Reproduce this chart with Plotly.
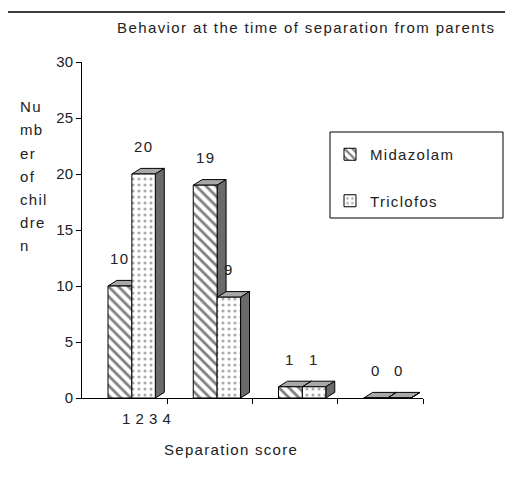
import plotly.graph_objects as go

# ---- data ----
categories = ["1", "2", "3", "4"]
series_names = ["Midazolam", "Triclofos"]
midazolam = [10, 19, 1, 0]
triclofos = [20, 9, 1, 0]
y_title_lines = ["Nu", "mb", "er", "of", "chil", "dre", "n"]
title_text = "Behavior at the time of separation from parents"
x_title = "Separation score"

# ---- layout helpers ----
FONT = "Liberation Sans, Arial, sans-serif"
W, H = 513, 477
OFF = 8  # page body margin
L, T = 82 - OFF, 62 - OFF
PR, PB = 423 - OFF, 398 - OFF
R, B = W - PR, H - PB
PW, PH = PR - L, PB - T


def pxx(px):
    return (px - OFF - L) / PW


def pxy(py):
    return (PB - (py - OFF)) / PH


def sp(text, ls=1.3):
    return f"<span style='letter-spacing:{ls}px'>{text}</span>"


xs = list(range(len(categories)))
DX, DY = 0.105, 0.5

styles = [
    dict(offset=-0.195, width=0.28,
         pattern=dict(shape="\\", size=7, solidity=0.4, fgcolor="black", bgcolor="white")),
    dict(offset=0.085, width=0.275,
         pattern=dict(shape=".", size=6, solidity=0.22, fgcolor="#555555", bgcolor="white")),
]

fig = go.Figure()
shapes = []
annotations = []
for name, vals, st in zip(series_names, [midazolam, triclofos], styles):
    fig.add_trace(go.Bar(
        x=xs, y=vals, name=sp(name), legendgroup=name,
        offset=st["offset"], width=st["width"],
        marker=dict(color="white", pattern=st["pattern"],
                    line=dict(color="black", width=1)),
    ))
    for x, v in zip(xs, vals):
        xl = x + st["offset"]
        xr = xl + st["width"]
        shapes.append(dict(type="path", xref="x", yref="y", layer="below",
                           path=f"M {xl},{v} L {xl+DX},{v+DY} L {xr+DX},{v+DY} L {xr},{v} Z",
                           fillcolor="#a8a8a8", line=dict(color="black", width=1)))
        shapes.append(dict(type="path", xref="x", yref="y", layer="below",
                           path=f"M {xr},0 L {xr+DX},{DY} L {xr+DX},{v+DY} L {xr},{v} Z",
                           fillcolor="#6a6a6a", line=dict(color="black", width=1)))
        annotations.append(dict(x=(xl + xr) / 2, y=v, xref="x", yref="y", text=sp(str(v)),
                                showarrow=False, yanchor="bottom", yshift=17,
                                font=dict(size=15, color="#222")))

# y-axis title, one line per annotation
for i, line in enumerate(y_title_lines):
    annotations.append(dict(x=pxx(18), y=pxy(107 + 23 * i), xref="paper", yref="paper",
                            text=sp(line), showarrow=False, xanchor="left", yanchor="middle",
                            font=dict(size=15, color="#222")))

# crowded x tick labels
annotations.append(dict(x=pxx(146), y=pxy(418), xref="paper", yref="paper",
                        text=sp(" ".join(categories), 0.5), showarrow=False,
                        xanchor="center", yanchor="middle", font=dict(size=15, color="#222")))
# x title
annotations.append(dict(x=pxx(231), y=pxy(450), xref="paper", yref="paper",
                        text=sp(x_title), showarrow=False,
                        xanchor="center", yanchor="middle", font=dict(size=15, color="#222")))
# chart title
annotations.append(dict(x=pxx(115), y=pxy(28), xref="paper", yref="paper",
                        text=sp(title_text, 1.4), showarrow=False,
                        xanchor="left", yanchor="middle", font=dict(size=15, color="#222")))

# outer frame
shapes.append(dict(type="rect", xref="paper", yref="paper",
                   x0=pxx(7), x1=pxx(560), y0=pxy(530), y1=pxy(12),
                   line=dict(color="black", width=1.5), fillcolor="rgba(0,0,0,0)"))
# legend box
shapes.append(dict(type="rect", xref="paper", yref="paper",
                   x0=pxx(330), x1=pxx(503), y0=pxy(218), y1=pxy(132),
                   line=dict(color="black", width=1), fillcolor="white", layer="below"))

fig.update_layout(
    width=W, height=H,
    margin=dict(l=L, r=R, t=T, b=B),
    paper_bgcolor="white", plot_bgcolor="white",
    font=dict(family=FONT, size=15, color="#222"),
    barmode="overlay",
    xaxis=dict(range=[-0.5, 3.5], showline=True, linecolor="black", linewidth=1,
               tickvals=[x + 0.5 for x in xs], ticktext=["" for _ in xs],
               ticks="outside", ticklen=5, tickcolor="black",
               showgrid=False, zeroline=False),
    yaxis=dict(range=[0, 30], dtick=5, showline=True, linecolor="black", linewidth=1,
               ticks="outside", ticklen=5, tickcolor="black",
               showgrid=False, zeroline=False, tickfont=dict(size=15)),
    legend=dict(x=pxx(330), y=pxy(138), xanchor="left", yanchor="top",
                bgcolor="rgba(0,0,0,0)", borderwidth=0,
                tracegroupgap=24, font=dict(size=15)),
    shapes=shapes,
    annotations=annotations,
)

fig.write_html("out.html")
